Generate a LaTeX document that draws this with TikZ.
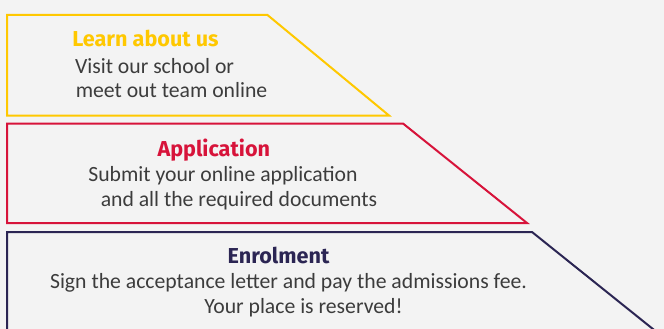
\documentclass[tikz,border=0pt]{standalone}
\usepackage{fontspec}
\setmainfont{Carlito}
\newfontfamily\headfont{Fira Sans}[UprightFont=* Bold]
\definecolor{bgc}{HTML}{F3F3F3}
\definecolor{yel}{HTML}{FFC800}
\definecolor{redc}{HTML}{D7133A}
\definecolor{navy}{HTML}{2B2553}
\definecolor{txt}{HTML}{3C3C3C}
\tikzset{
  stage/.style={line width=2pt, line join=miter},
  head/.style={font=\headfont\fontsize{21.6}{26}\selectfont, anchor=base, inner sep=0pt},
  body/.style={font=\fontsize{21.7}{26}\selectfont, text=txt, anchor=base, inner sep=0pt},
}
\begin{document}
\begin{tikzpicture}[x=1pt,y=-1pt]
\useasboundingbox (0,0) rectangle (664,329);
\fill[bgc] (0,0) rectangle (664,329);
\begin{scope}
\clip (0,0) rectangle (664,329);
\draw[stage, yel] (7,15) -- (267.5,15) -- (389,115.5) -- (7,115.5) -- cycle;
\draw[stage, redc] (7,123.5) -- (403,123.5) -- (527,223) -- (7,223) -- cycle;
\draw[stage, navy] (7,345) -- (7,232) -- (532,232) -- (672,344.3);
\end{scope}
\node[head, text=yel] (t1) at (145.5,46.7) {Learn about us};
\node[body] (l1a) at (154.6,73.3) {Visit our school or};
\node[body] (l1b) at (171.5,97.5) {meet out team online};
\node[head, text=redc] (t2) at (213.8,156) {Application};
\node[body] (l2a) at (223,181.7) {Submit your online application};
\node[body] (l2b) at (239,206.7) {and all the required documents};
\node[head, text=navy] (t3) at (278.5,263.3) {Enrolment};
\node[body] (l3a) at (288.5,288.3) {Sign the acceptance letter and pay the admissions fee.};
\node[body] (l3b) at (303.5,313.3) {Your place is reserved!};
\end{tikzpicture}
\end{document}
